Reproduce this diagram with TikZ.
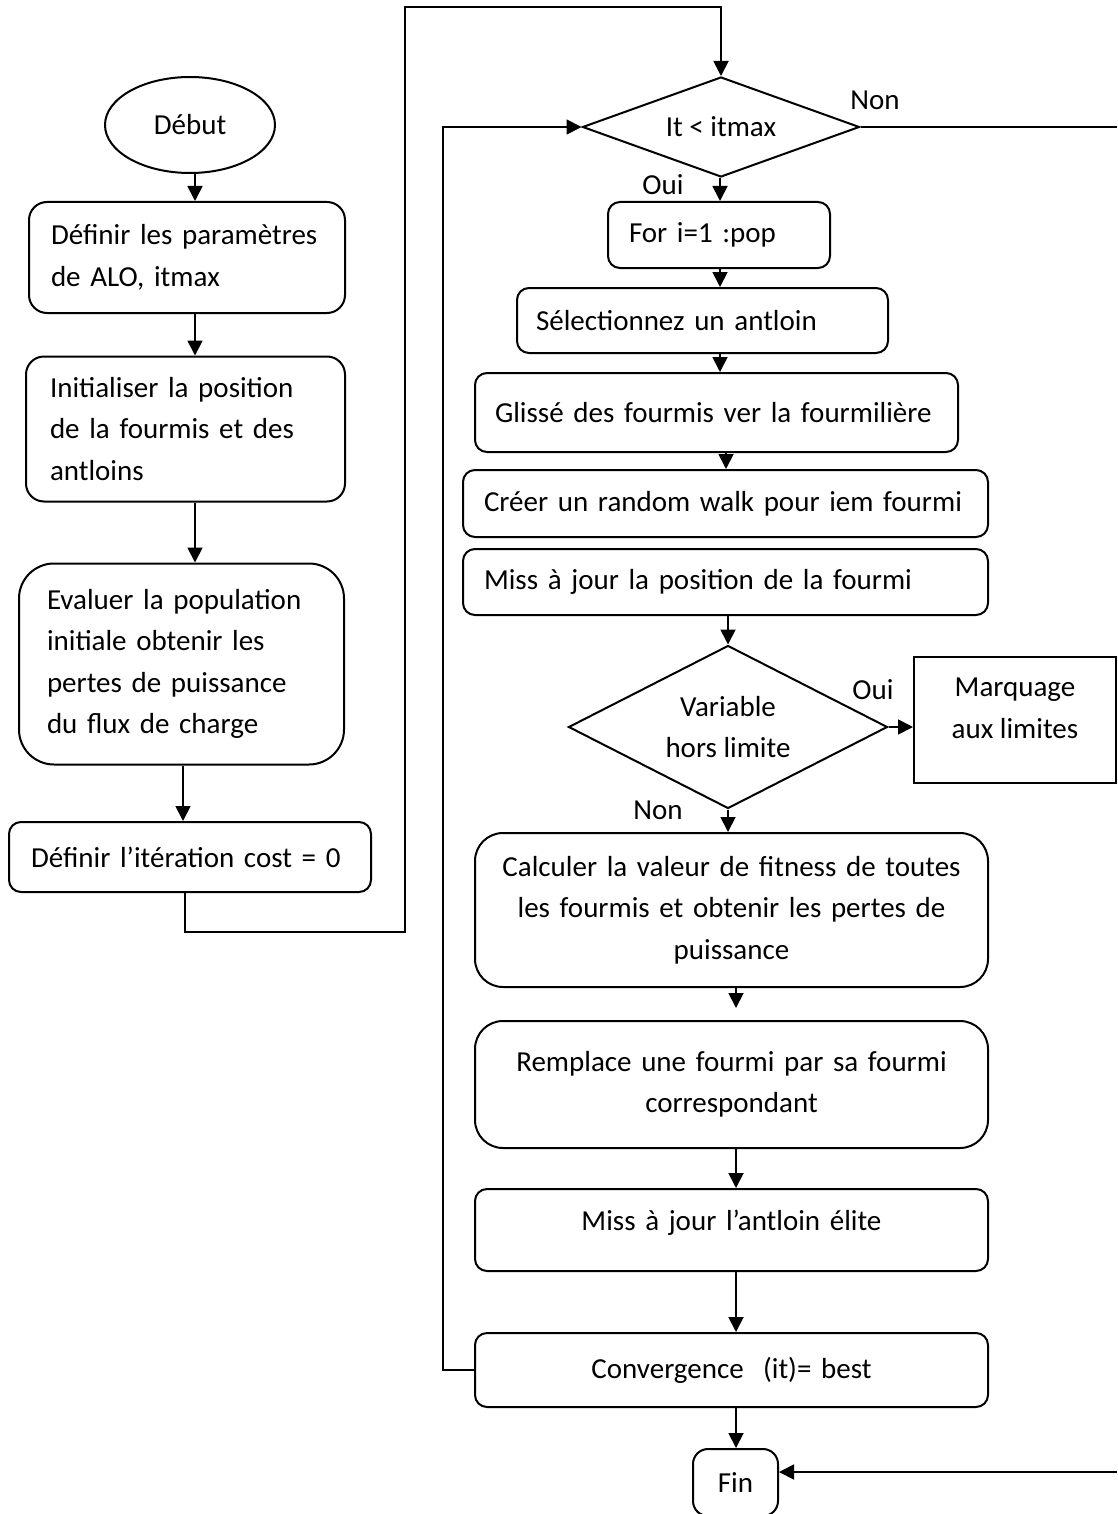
\documentclass[tikz,border=0pt]{standalone}
\usepackage{fontspec}
\setmainfont{Carlito}
\usetikzlibrary{shapes.geometric,arrows.meta}
\begin{document}
\begin{tikzpicture}[x=1pt,y=-1pt,
  every node/.style={font=\fontsize{29}{41.5}\selectfont},
  base/.style={draw, line width=2pt, inner ysep=0pt},
  rbox/.style={base, rounded corners=#1, align=left},
  cbox/.style={base, rounded corners=#1, align=center},
  arr/.style={line width=1.8pt, -{Triangle[length=15pt,width=15pt]}},
  ln/.style={line width=1.8pt},
  lbl/.style={inner sep=0pt}]
\clip (0,0) rectangle (1117,1514);

% left column
\node[base, ellipse, minimum width=170pt, minimum height=96pt, inner sep=0pt] (debut) at (190,125) {Début};
\node[rbox=18pt, text width=272pt, inner xsep=22pt, minimum height=111pt] (b1) at (187,257.5) {Définir les paramètres\\de ALO, itmax};
\node[rbox=18pt, text width=271pt, inner xsep=24pt, minimum height=145pt] (b2) at (185.5,429) {Initialiser la position\\de la fourmis et des\\antloins};
\node[rbox=35pt, text width=269pt, inner xsep=28pt, minimum height=201pt] (b3) at (181.5,664) {Evaluer la population\\initiale obtenir les\\pertes de puissance\\du flux de charge};
\node[rbox=12pt, text width=318pt, inner xsep=22pt, minimum height=70pt] (b4) at (190,857) {Définir l’itération cost = 0};

% right column
\node[base, diamond, aspect=2.77, minimum width=277pt, minimum height=100pt, inner sep=0pt] (d1) at (721,127) {It < itmax};
\node[rbox=12pt, text width=180pt, inner xsep=21pt, minimum height=66pt] (fr) at (719,235) {For i=1 :pop};
\node[rbox=12pt, text width=333pt, inner xsep=19pt, minimum height=65pt] (sel) at (702.5,320.5) {Sélectionnez un antloin};
\node[rbox=12pt, text width=443pt, inner xsep=20pt, minimum height=79pt] (gl) at (716.5,412.5) {Glissé des fourmis ver la fourmilière};
\node[rbox=12pt, text width=483pt, inner xsep=21pt, minimum height=67pt] (cr) at (725.5,503.5) {Créer un random walk pour iem fourmi};
\node[rbox=12pt, text width=483pt, inner xsep=21pt, minimum height=66pt] (miss) at (725.5,582) {Miss à jour la position de la fourmi};
\node[base, diamond, aspect=1.96, align=center, minimum width=319pt, minimum height=163pt, inner sep=0pt] (d2) at (728,727) {Variable\\hors limite};
\node[base, rectangle, align=center, minimum width=202pt, minimum height=126pt, text depth=24pt] (mq) at (1015,720) {Marquage\\aux limites};
\node[cbox=28pt, text width=473pt, inner xsep=20pt, minimum height=154pt] (calc) at (731.5,910) {Calculer la valeur de fitness de toutes\\les fourmis et obtenir les pertes de\\puissance};
\node[cbox=28pt, text width=473pt, inner xsep=20pt, minimum height=127pt] (rp) at (731.5,1084.5) {Remplace une fourmi par sa fourmi\\correspondant};
\node[cbox=12pt, text width=473pt, inner xsep=20pt, minimum height=82pt, text depth=20pt] (el) at (731.5,1230) {Miss à jour l’antloin élite};
\node[cbox=12pt, text width=473pt, inner xsep=20pt, minimum height=74pt] (cv) at (731.5,1370) {Convergence~ (it)= best};
\node[cbox=15pt, minimum width=85pt, minimum height=67pt] (fin) at (735.5,1482.5) {Fin};

% labels
\node[lbl] (non1) at (875,100) {Non};
\node[lbl] (oui1) at (663,185) {Oui};
\node[lbl] (oui2) at (873,690) {Oui};
\node[lbl] (non2) at (658,810) {Non};

% helper coordinates
\coordinate (xL) at (195,0);
\coordinate (xL2) at (183,0);
\coordinate (p1) at (185,932);
\coordinate (p2) at (405,932);
\coordinate (p3) at (405,7);
\coordinate (p4) at (721,7);
\coordinate (xR) at (720,0);
\coordinate (xR2) at (726,0);
\coordinate (xR3) at (736,0);
\coordinate (q1) at (443,0);
\coordinate (e1) at (1117,0);
\coordinate (e2) at (1117,1472);

% left connectors
\draw[arr] (debut.south -| xL) -- (b1.north -| xL);
\draw[arr] (b1.south -| xL) -- (b2.north -| xL);
\draw[arr] (b2.south -| xL) -- (b3.north -| xL);
\draw[arr] (b3.south -| xL2) -- (b4.north -| xL2);
\draw[arr] (b4.south -| p1) -- (p1) -- (p2) -- (p3) -- (p4) -- (d1.north);

% right connectors
\draw[arr] (d1.south -| xR) -- (fr.north -| xR);
\draw[arr] (fr.south -| xR) -- (sel.north -| xR);
\draw[arr] (sel.south -| xR) -- (gl.north -| xR);
\draw[arr] (gl.south -| xR2) -- (cr.north -| xR2);
\draw[arr] (miss.south -| d2.north) -- (d2.north);
\draw[arr] (d2.east) -- (d2.east -| mq.west);
\draw[arr] (d2.south) -- (calc.north -| d2.south);
\draw[arr] (calc.south -| xR3) -- ([yshift=12pt]rp.north -| xR3);
\draw[arr] (rp.south -| xR3) -- (el.north -| xR3);
\draw[arr] (el.south -| xR3) -- (cv.north -| xR3);
\draw[arr] (cv.south -| xR3) -- (fin.north -| xR3);
\draw[arr] (cv.west) -- (cv.west -| q1) -- (d1.west -| q1) -- (d1.west);
\draw[ln] (d1.east) -- (d1.east -| e1);
\draw[arr] (e2) -- (e2 -| fin.east);
\end{tikzpicture}
\end{document}
